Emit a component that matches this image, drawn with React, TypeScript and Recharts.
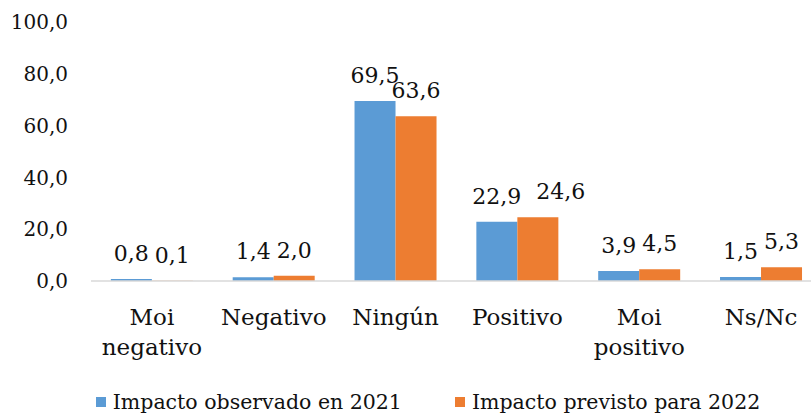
import React from 'react'
import { BarChart, Bar, XAxis, YAxis, Legend, LabelList } from 'recharts'

const categories = ['Moi negativo', 'Negativo', 'Ningún', 'Positivo', 'Moi positivo', 'Ns/Nc']
const observed2021 = [0.8, 1.4, 69.5, 22.9, 3.9, 1.5]
const expected2022 = [0.1, 2.0, 63.6, 24.6, 4.5, 5.3]
const yTicks = [0, 20, 40, 60, 80, 100]
const seriesNames = ['Impacto observado en 2021', 'Impacto previsto para 2022']
const seriesColors = ['#5B9BD5', '#ED7D31']

const FONT = '"DejaVu Serif", serif'
const LABEL_SIZE = 22

const data = categories.map((c, i) => ({
  name: c,
  obs: observed2021[i],
  prev: expected2022[i],
}))

const fmt = (v: number) => v.toFixed(1).replace('.', ',')

// rough width of a number label in DejaVu Serif
const labelWidth = (v: number) => {
  const s = fmt(v)
  let w = 0
  for (const ch of s) w += ch === ',' ? 0.318 : 0.636
  return w * LABEL_SIZE
}

function CategoryTick(props: any) {
  const { x, y, payload } = props
  // two-word labels go on two lines, as in the original
  const lines = String(payload.value).split(' ')
  return (
    <text x={x} y={y + 44} textAnchor="middle" style={{ fontFamily: FONT, fontSize: 23, fill: '#111' }}>
      {lines.map((l, i) => (
        <tspan key={i} x={x} dy={i === 0 ? 0 : 30}>{l}</tspan>
      ))}
    </text>
  )
}

// label for a bar; the second series moves right if it would run into the first one's label
function makeLabel(series: 'obs' | 'prev') {
  return (props: any) => {
    const { x, y, width, height, value, index } = props
    let dx = 0
    if (series === 'prev' && value > 0) {
      const other = observed2021[index]
      const ppu = height / value
      const dy = Math.abs((other - value) * ppu)
      const overlap = (labelWidth(other) + labelWidth(value)) / 2 - width
      if (dy < LABEL_SIZE * 0.65 && overlap > 0) dx = overlap + 15
    }
    return (
      <text x={x + width / 2 + dx} y={y - 18} textAnchor="middle" style={{ fontFamily: FONT, fontSize: LABEL_SIZE, fill: '#111' }}>
        {fmt(value)}
      </text>
    )
  }
}

function renderLegend() {
  return (
    <div style={{ display: 'flex', justifyContent: 'center', height: 24, paddingLeft: 34, fontFamily: FONT, fontSize: 20.5, color: '#111', lineHeight: '24px' }}>
      {seriesNames.map((n, i) => (
        <span key={n} style={{ display: 'flex', alignItems: 'center', marginRight: i === 0 ? 53 : 0 }}>
          <span style={{ width: 10, height: 10, background: seriesColors[i], marginRight: 7, display: 'inline-block' }} />
          {n}
        </span>
      ))}
    </div>
  )
}

export default function App() {
  return (
    <div style={{ position: 'absolute', left: 0, top: 0, width: 811, height: 414, overflow: 'hidden', background: '#fff' }}>
      <BarChart width={822} height={414} data={data} margin={{ top: 22, right: 0, bottom: 0, left: 0 }} barCategoryGap="16.3%" barGap={0}>
        <XAxis
          dataKey="name"
          height={109}
          tickLine={false}
          tickSize={0}
          tickMargin={0}
          axisLine={{ stroke: '#D9D9D9', strokeWidth: 1.5 }}
          tick={<CategoryTick />}
          interval={0}
        />
        <YAxis
          width={91}
          domain={[0, 100]}
          ticks={yTicks}
          tickFormatter={fmt}
          axisLine={false}
          tickLine={false}
          tickSize={0}
          tickMargin={23}
          tick={{ fontFamily: FONT, fontSize: 20, fill: '#111' }}
        />
        <Legend verticalAlign="bottom" content={renderLegend} wrapperStyle={{ bottom: 0, left: 0, width: 822 }} />
        <Bar dataKey="obs" name={seriesNames[0]} fill={seriesColors[0]} isAnimationActive={false}>
          <LabelList dataKey="obs" content={makeLabel('obs')} />
        </Bar>
        <Bar dataKey="prev" name={seriesNames[1]} fill={seriesColors[1]} isAnimationActive={false}>
          <LabelList dataKey="prev" content={makeLabel('prev')} />
        </Bar>
      </BarChart>
    </div>
  )
}
